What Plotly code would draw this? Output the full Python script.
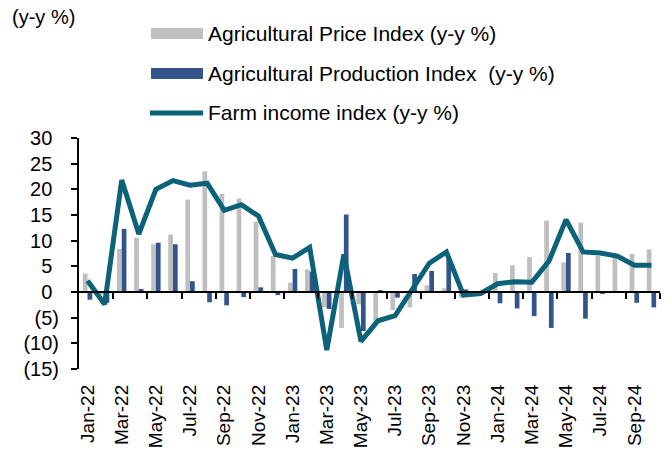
import plotly.graph_objects as go

months = ["Jan-22", "Feb-22", "Mar-22", "Apr-22", "May-22", "Jun-22", "Jul-22", "Aug-22",
          "Sep-22", "Oct-22", "Nov-22", "Dec-22", "Jan-23", "Feb-23", "Mar-23", "Apr-23",
          "May-23", "Jun-23", "Jul-23", "Aug-23", "Sep-23", "Oct-23", "Nov-23", "Dec-23",
          "Jan-24", "Feb-24", "Mar-24", "Apr-24", "May-24", "Jun-24", "Jul-24", "Aug-24",
          "Sep-24", "Oct-24"]

price_index = [3.6, -0.5, 8.4, 10.6, 9.3, 11.2, 18.0, 23.5, 19.1, 18.2, 13.7, 7.0,
               1.8, 4.4, -3.0, -7.0, -2.4, -6.0, -3.5, -3.0, 1.3, 0.7, -1.1, 0.0,
               3.7, 5.2, 6.8, 13.9, 5.8, 13.5, 7.0, 6.8, 7.4, 8.3]

production_index = [-1.5, -2.1, 12.3, 0.6, 9.6, 9.3, 2.1, -2.0, -2.6, -1.0, 0.9, -0.6,
                    4.5, 4.0, -3.3, 15.1, -7.6, 0.4, -1.1, 3.5, 4.1, 6.5, 0.5, -0.3,
                    -2.2, -3.2, -4.7, -7.0, 7.6, -5.2, -0.3, 0.0, -2.1, -3.0]

farm_income = [2.2, -2.4, 21.8, 11.3, 20.0, 21.7, 20.8, 21.2, 15.9, 17.0, 14.8, 7.3,
               6.6, 8.7, -11.3, 7.3, -9.6, -5.6, -4.6, 0.6, 5.6, 7.8, -0.6, -0.3,
               1.6, 2.0, 1.9, 6.0, 14.1, 7.8, 7.6, 7.0, 5.2, 5.2]

y_ticks = [-15, -10, -5, 0, 5, 10, 15, 20, 25, 30]
y_ticktext = ["(15)", "(10)", "(5)", "0", "5", "10", "15", "20", "25", "30"]

series_names = ["Agricultural Price Index (y-y %)",
                "Agricultural Production Index  (y-y %)",
                "Farm income index (y-y %)"]

GREY = "#BFBFBF"
BLUE = "#33548A"
TEAL = "#0B6279"
FONT = "Liberation Sans, Arial, sans-serif"

W, H = 672, 452
L, R, T, B = 79, 12, 138, 83
PW, PH = W - L - R, H - T - B


def px_x(p):
    return (p - L) / PW


def px_y(p):
    return (H - B - p) / PH


# positive labels get an invisible ")" so digits line up like the accounting format
HIDDEN = "<span style='color:rgba(0,0,0,0)'>)</span>"
y_labels = [t if t.startswith("(") else t + HIDDEN for t in y_ticktext]

fig = go.Figure()
fig.add_trace(go.Bar(x=months, y=price_index, name=series_names[0],
                     marker=dict(color=GREY, line=dict(width=0))))
fig.add_trace(go.Bar(x=months, y=production_index, name=series_names[1],
                     marker=dict(color=BLUE, line=dict(width=0))))
fig.add_trace(go.Scatter(x=months, y=farm_income, name=series_names[2], mode="lines",
                         line=dict(color=TEAL, width=5)))
# helper trace for the category tick axis drawn at y = 0
n = len(months)
fig.add_trace(go.Scatter(x=[-0.5, n - 0.5], y=[0, 0], xaxis="x2", mode="lines",
                         line=dict(color="rgba(0,0,0,0)", width=0),
                         hoverinfo="skip", showlegend=False))

fig.update_layout(
    width=W, height=H,
    margin=dict(l=L, r=R, t=T, b=B, autoexpand=False),
    paper_bgcolor="white", plot_bgcolor="white",
    showlegend=False,
    barmode="group", bargap=0.45, bargroupgap=0,
    font=dict(family=FONT, size=20, color="black"),
    xaxis=dict(type="category", range=[-0.5, n - 0.5], automargin=False,
               tickmode="array", tickvals=months[::2], ticktext=months[::2],
               tickangle=-90, ticks="", showline=False, showgrid=False, zeroline=False,
               tickfont=dict(size=19), ticklabelstandoff=11),
    xaxis2=dict(overlaying="x", anchor="free", position=15 / 45, side="bottom",
                automargin=False,
                range=[-0.5, n - 0.5], tickmode="array",
                tickvals=[i + 1.5 for i in range(0, n, 2)],
                ticks="outside", ticklen=6, tickwidth=2, tickcolor="black",
                showticklabels=False, showline=True, linewidth=2, linecolor="black",
                showgrid=False, zeroline=False),
    yaxis=dict(range=[-15, 30], tickmode="array", tickvals=y_ticks, ticktext=y_labels,
               automargin=False,
               ticks="outside", ticklen=6, tickwidth=2, tickcolor="black",
               showline=True, linewidth=2, linecolor="black",
               showgrid=False, zeroline=False, tickfont=dict(size=20),
               ticklabelstandoff=8),
)

# manual legend
shapes = [
    dict(type="rect", xref="paper", yref="paper", x0=px_x(151), x1=px_x(203),
         y0=px_y(39), y1=px_y(28), fillcolor=GREY, line=dict(width=0)),
    dict(type="rect", xref="paper", yref="paper", x0=px_x(151), x1=px_x(203),
         y0=px_y(79), y1=px_y(68), fillcolor=BLUE, line=dict(width=0)),
    dict(type="line", xref="paper", yref="paper", x0=px_x(150), x1=px_x(203),
         y0=px_y(113), y1=px_y(113), line=dict(color=TEAL, width=5)),
]
fig.update_layout(shapes=shapes)

annotations = [
    dict(text="(y-y %)", x=px_x(10), y=px_y(17), size=20),
    dict(text=series_names[0], x=px_x(206), y=px_y(34), size=21),
    dict(text=series_names[1], x=px_x(206), y=px_y(73), size=21),
    dict(text=series_names[2], x=px_x(206), y=px_y(112), size=21),
]
for a in annotations:
    size = a.pop("size")
    fig.add_annotation(xref="paper", yref="paper", xanchor="left", yanchor="middle",
                       showarrow=False, font=dict(family=FONT, size=size, color="black"),
                       **a)

fig.write_html("out.html", config={"displayModeBar": False},
               post_script="document.body.style.margin='0px';document.body.style.overflow='hidden';")
